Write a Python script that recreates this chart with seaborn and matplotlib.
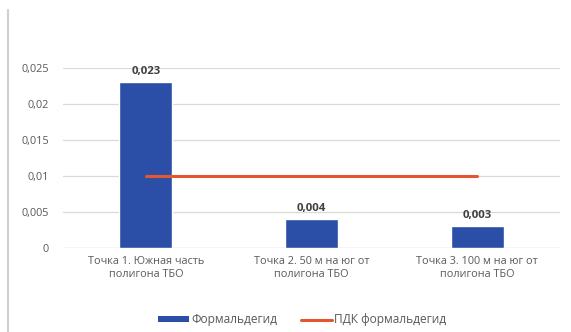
import matplotlib
matplotlib.use("Agg")
import matplotlib.pyplot as plt
import seaborn as sns
import pandas as pd
from matplotlib.lines import Line2D
from matplotlib.patches import Patch

categories = ["Точка 1. Южная часть\nполигона ТБО",
              "Точка 2. 50 м на юг от\nполигона ТБО",
              "Точка 3. 100 м на юг от\nполигона ТБО"]
formaldehyde = [0.023, 0.004, 0.003]
pdk = [0.01, 0.01, 0.01]
value_labels = ["0,023", "0,004", "0,003"]
yticks = [0, 0.005, 0.01, 0.015, 0.02, 0.025]
ytick_labels = ["0", "0,005", "0,01", "0,015", "0,02", "0,025"]

bar_color = "#2b4ea6"
line_color = "#e4572e"

sns.set_theme(style="white")
plt.rcParams["font.family"] = ["Open Sans", "DejaVu Sans"]

df = pd.DataFrame({"cat": categories, "val": formaldehyde})

fig = plt.figure(figsize=(5.71, 3.32), dpi=100)
ax = fig.add_axes([63 / 571, 84 / 332, 497 / 571, 180 / 332])

sns.barplot(data=df, x="cat", y="val", color=bar_color, width=0.32,
            saturation=1, ax=ax, zorder=3)
sns.lineplot(x=[0, 1, 2], y=pdk, color=line_color, linewidth=2.2,
             ax=ax, zorder=4)

for i, (v, t) in enumerate(zip(formaldehyde, value_labels)):
    ax.text(i, v + 0.0007, t, ha="center", va="bottom", fontsize=8.2,
            color="#404040", fontweight="bold")

ax.set_ylim(0, 0.025)
ax.set_xlim(-0.5, 2.5)
ax.set_yticks(yticks)
ax.set_yticklabels(ytick_labels, fontsize=7.8, color="#595959")
ax.tick_params(axis="x", labelsize=7.8, labelcolor="#595959", length=0, pad=6)
ax.tick_params(axis="y", length=0, pad=10)
ax.set_xlabel("")
ax.set_ylabel("")
ax.yaxis.grid(True, color="#d9d9d9", linewidth=0.9)
ax.set_axisbelow(True)
for s in ax.spines.values():
    s.set_visible(False)
ax.axhline(0, color="#d9d9d9", linewidth=0.9, zorder=2)

handles = [Patch(facecolor=bar_color, edgecolor="none"),
           Line2D([0], [0], color=line_color, linewidth=2.2)]
fig.legend(handles, ["Формальдегид", "ПДК формальдегид"],
           loc="center", bbox_to_anchor=(302 / 571, 1 - 320 / 332),
           ncol=2, frameon=False, fontsize=8.6, labelcolor="#595959",
           handlelength=2.6, handleheight=0.4, columnspacing=2.0,
           handletextpad=0.15)

# left frame edge
fig.add_artist(Line2D([8 / 571, 8 / 571], [0, 1 - 10 / 332],
                      color="#d0d0d0", linewidth=1.5,
                      transform=fig.transFigure))

fig.savefig("out.png", dpi=100)
